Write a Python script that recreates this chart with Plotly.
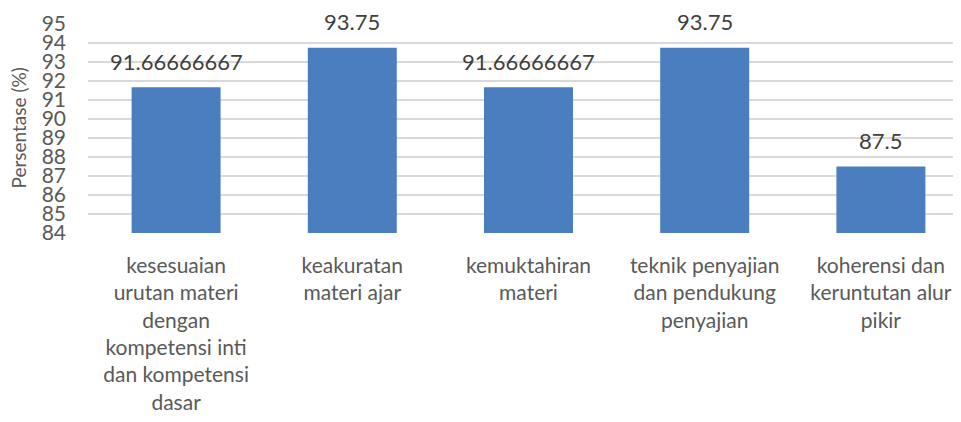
import plotly.graph_objects as go

categories = [
    "kesesuaian<br>urutan materi<br>dengan<br>kompetensi inti<br>dan kompetensi<br>dasar",
    "keakuratan<br>materi ajar",
    "kemuktahiran<br>materi",
    "teknik penyajian<br>dan pendukung<br>penyajian",
    "koherensi dan<br>keruntutan alur<br>pikir",
]
values = [91.66666667, 93.75, 91.66666667, 93.75, 87.5]
value_labels = ["91.66666667", "93.75", "91.66666667", "93.75", "87.5"]
y_ticks = list(range(84, 96))
y_title = "Persentase (%)"

FONT = "Lato"
TXT = "#595959"

fig = go.Figure()
fig.add_trace(go.Bar(
    x=categories, y=values, width=0.505,
    marker=dict(color="#4a7ebf", line=dict(width=0)),
))
for c, v, t in zip(categories, values, value_labels):
    fig.add_annotation(x=c, y=v, text=t, showarrow=False, yshift=26,
                       font=dict(family=FONT, size=22, color="#404040"))

fig.add_annotation(xref="paper", yref="paper", x=0, y=0.5, xshift=-70,
                   xanchor="center", yanchor="middle",
                   text=y_title, textangle=-90, showarrow=False,
                   font=dict(family=FONT, size=19, color=TXT))

fig.update_layout(
    width=961, height=422,
    margin=dict(l=80, r=0, t=16, b=197),
    paper_bgcolor="white", plot_bgcolor="white",
    showlegend=False,
    font=dict(family=FONT, color=TXT),
)
fig.update_xaxes(
    range=[-0.5, 4.5], showgrid=False, showline=False, ticks="",
    ticklabelstandoff=18,
    tickfont=dict(family=FONT, size=21, color=TXT),
)
fig.update_yaxes(
    range=[84, 95], tickvals=y_ticks, ticktext=[str(v) for v in y_ticks],
    showgrid=True, gridcolor="#d9d9d9", gridwidth=1.5, zeroline=False,
    showline=False, ticks="", ticklabelstandoff=21,
    tickfont=dict(family=FONT, size=21, color=TXT),
)
fig.write_html("out.html")
